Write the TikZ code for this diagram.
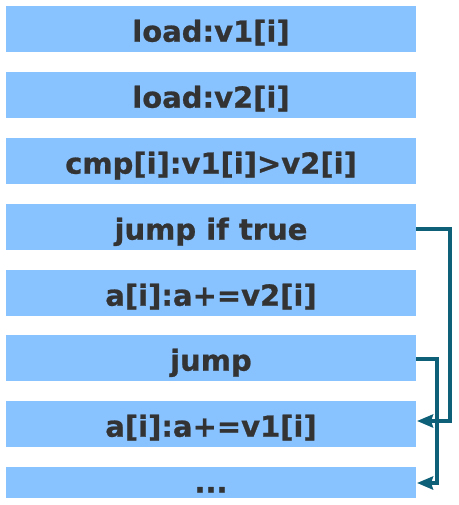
\documentclass[tikz,border=0pt]{standalone}
\usepackage{fontspec}
\setmainfont{DejaVu Sans}[BoldFeatures={FakeBold=0.8}]
\usetikzlibrary{arrows.meta}
\definecolor{boxblue}{RGB}{136,194,255}
\definecolor{txtgray}{RGB}{51,51,51}
\definecolor{teal}{RGB}{14,96,120}
\begin{document}
\begin{tikzpicture}[x=1pt,y=-1pt,
  instr/.style={rectangle, fill=boxblue, draw=none, minimum width=410pt, minimum height=46pt, inner sep=0pt,
    text height=27pt, text depth=1.6pt,
    font=\fontsize{29}{33}\selectfont\bfseries, text=txtgray},
  link/.style={draw=teal, line width=3.6pt, -{Stealth[length=16pt,width=13pt,inset=2pt]}}]
\useasboundingbox (0,0) rectangle (458,505);
\node[instr] (b1) at (211,29) {load:v1[i]};
\node[instr] (b2) at (211,95) {load:v2[i]};
\node[instr] (b3) at (211,161) {cmp[i]:v1[i]>v2[i]};
\node[instr] (b4) at (211,227) {jump if true};
\node[instr] (b5) at (211,293) {a[i]:a+=v2[i]};
\node[instr] (b6) at (211,358) {jump};
\node[instr] (b7) at (211,424) {a[i]:a+=v1[i]};
\node[instr, minimum height=31pt, text height=20pt, text depth=0pt] (b8) at (211,482.5) {...};
\coordinate (t1) at (417,421);
\coordinate (t2) at (417,483);
\draw[link] (b4.east) ++(0,2) -- (450,229) -- (450,421) -- (t1);
\draw[link] (b6.east) ++(0,1) -- (437,359) -- (437,483) -- (t2);
\end{tikzpicture}
\end{document}
